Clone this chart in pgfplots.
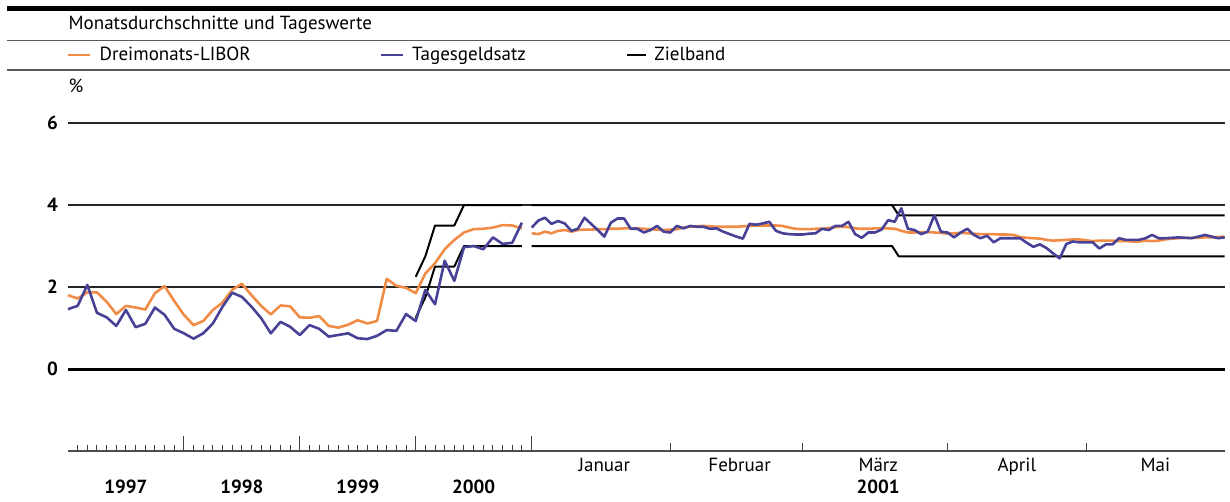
\documentclass[border=0pt]{standalone}
\usepackage{fontspec}
\setmainfont{PT Sans}
\usepackage{pgfplots}
\usepackage{pgfplotstable}
\pgfplotsset{compat=1.18}
\definecolor{liborc}{RGB}{240,140,70}
\definecolor{tagc}{RGB}{72,66,150}
\definecolor{sepc}{RGB}{90,90,90}

% Monatsdurchschnitte 1997-2000 (x = Monat, 0 = Jan 1997)
\pgfplotstableread{
x y
0 1.80
1 1.72
2 1.87
3 1.87
4 1.64
5 1.34
6 1.54
7 1.50
8 1.45
9 1.85
10 2.02
11 1.66
12 1.32
13 1.07
14 1.17
15 1.44
16 1.62
17 1.93
18 2.08
19 1.80
20 1.54
21 1.33
22 1.55
23 1.53
24 1.26
25 1.25
26 1.29
27 1.05
28 1.01
29 1.08
30 1.19
31 1.11
32 1.17
33 2.20
34 2.03
35 1.98
36 1.85
37 2.33
38 2.58
39 2.92
40 3.15
41 3.33
42 3.41
43 3.42
44 3.45
45 3.51
46 3.50
47 3.43
}\liborM

\pgfplotstableread{
x y
0 1.46
1 1.54
2 2.05
3 1.37
4 1.26
5 1.05
6 1.44
7 1.02
8 1.10
9 1.50
10 1.32
11 0.98
12 0.87
13 0.74
14 0.87
15 1.11
16 1.52
17 1.86
18 1.76
19 1.52
20 1.24
21 0.87
22 1.15
23 1.03
24 0.83
25 1.07
26 0.98
27 0.79
28 0.83
29 0.87
30 0.75
31 0.73
32 0.81
33 0.95
34 0.93
35 1.34
36 1.17
37 1.93
38 1.58
39 2.64
40 2.15
41 2.97
42 3.00
43 2.92
44 3.21
45 3.05
46 3.08
47 3.57
}\tagM

\pgfplotstableread{
x y
36 2.25
37 2.75
38 3.50
40 3.50
41 4.00
47 4.00
}\zielObenM

\pgfplotstableread{
x y
36 1.25
37 1.75
38 2.50
40 2.50
41 3.00
47 3.00
}\zielUntenM

% Tageswerte Januar-Mai 2001 (x = Geschaeftstag)
\pgfplotstableread{
x y
0 3.31
1 3.29
2 3.35
3 3.31
4 3.37
5 3.39
6 3.35
7 3.39
8 3.40
9 3.40
10 3.41
11 3.41
12 3.42
13 3.42
14 3.43
15 3.43
16 3.43
17 3.42
18 3.41
19 3.40
20 3.39
21 3.40
22 3.41
23 3.45
24 3.47
25 3.48
26 3.49
27 3.48
28 3.47
29 3.47
30 3.47
31 3.47
32 3.48
33 3.49
34 3.50
35 3.50
36 3.50
37 3.50
38 3.49
39 3.45
40 3.42
41 3.41
42 3.41
43 3.42
44 3.42
45 3.44
46 3.46
47 3.47
48 3.46
49 3.43
50 3.42
51 3.42
52 3.43
53 3.43
54 3.43
55 3.42
56 3.37
57 3.33
58 3.33
59 3.34
60 3.34
61 3.33
62 3.32
63 3.30
64 3.31
65 3.32
66 3.31
67 3.30
68 3.29
69 3.29
70 3.29
71 3.28
72 3.28
73 3.27
74 3.22
75 3.20
76 3.19
77 3.18
78 3.15
79 3.13
80 3.14
81 3.15
82 3.16
83 3.16
84 3.14
85 3.12
86 3.13
87 3.13
88 3.13
89 3.12
90 3.12
91 3.11
92 3.11
93 3.13
94 3.12
95 3.13
96 3.16
97 3.18
98 3.19
99 3.20
100 3.20
101 3.20
102 3.21
103 3.21
104 3.22
105 3.23
}\liborD

\pgfplotstableread{
x y
0 3.45
1 3.62
2 3.69
3 3.54
4 3.61
5 3.55
6 3.37
7 3.42
8 3.69
9 3.54
10 3.39
11 3.23
12 3.57
13 3.67
14 3.67
15 3.42
16 3.42
17 3.33
18 3.39
19 3.49
20 3.35
21 3.33
22 3.49
23 3.43
24 3.49
25 3.47
26 3.47
27 3.42
28 3.43
29 3.35
30 3.29
31 3.23
32 3.18
33 3.54
34 3.52
35 3.55
36 3.59
37 3.37
38 3.31
39 3.29
40 3.28
41 3.28
42 3.30
43 3.31
44 3.42
45 3.39
46 3.49
47 3.49
48 3.59
49 3.29
50 3.20
51 3.33
52 3.33
53 3.40
54 3.63
55 3.59
56 3.92
57 3.42
58 3.39
59 3.29
60 3.35
61 3.75
62 3.35
63 3.33
64 3.21
65 3.33
66 3.42
67 3.27
68 3.19
69 3.25
70 3.09
71 3.19
72 3.19
73 3.19
74 3.19
75 3.08
76 2.98
77 3.04
78 2.95
79 2.82
80 2.70
81 3.05
82 3.11
83 3.09
84 3.09
85 3.09
86 2.94
87 3.04
88 3.04
89 3.19
90 3.15
91 3.15
92 3.15
93 3.19
94 3.27
95 3.19
96 3.19
97 3.20
98 3.21
99 3.20
100 3.19
101 3.23
102 3.27
103 3.23
104 3.19
105 3.21
}\tagD

\pgfplotstableread{
x y
0 4.00
54.6 4.00
55.6 3.75
105 3.75
}\zielObenD

\pgfplotstableread{
x y
0 3.00
54.6 3.00
55.6 2.75
105 2.75
}\zielUntenD

\begin{document}
\begin{tikzpicture}[font=\fontsize{9.5}{11}\selectfont]
\useasboundingbox (0pt,0pt) rectangle (615pt,251pt);

% header (coordinates in pixels of the 1230x502 picture, origin bottom left)
\begin{scope}[x=0.5pt,y=0.5pt]
\fill[black] (6.7,490.5) rectangle (1230,495.5);
\node[anchor=base west, inner sep=0pt] at (68.3,472) {Monatsdurchschnitte und Tageswerte};
\draw[sepc, line width=0.6pt] (6.7,461.3) -- (1230,461.3);
\draw[liborc, line width=1.2pt] (68.3,447) -- (90,447);
\node[anchor=base west, inner sep=0pt] at (99.3,441) {Dreimonats-LIBOR};
\draw[tagc, line width=1.2pt] (380.7,447) -- (403.3,447);
\node[anchor=base west, inner sep=0pt] at (411.7,441) {Tagesgeldsatz};
\draw[black, line width=1.2pt] (627,447) -- (646,447);
\node[anchor=base west, inner sep=0pt] at (654,441) {Zielband};
\draw[sepc, line width=0.6pt] (6.7,432) -- (1230,432);
\node[anchor=base west, inner sep=0pt] at (68.3,409) {\%};
\end{scope}

% background: grid and y labels
\begin{axis}[at={(34.15pt,25.5pt)}, anchor=south west, scale only axis,
  width=578.5pt, height=174.25pt,
  xmin=0, xmax=1, ymin=-2, ymax=6.5,
  axis line style={draw=none},
  xtick=\empty, ytick={0,2,4,6},
  yticklabels={\textbf{0},\textbf{2},\textbf{4},\textbf{6}},
  yticklabel style={inner sep=0pt, xshift=-5pt},
  tick style={draw=none},
  ymajorgrids, major grid style={black!85, line width=0.6pt},
  clip=false]
\draw[black, line width=1.5pt] (axis cs:0,0) -- (axis cs:1,0);
\end{axis}

% monthly averages 1997-2000
\begin{axis}[at={(34pt,25.5pt)}, anchor=south west, scale only axis,
  width=231.8pt, height=174.25pt,
  xmin=0, xmax=48, ymin=-2, ymax=6.5,
  axis y line=none, axis x line*=bottom,
  x axis line style={-, black!70, line width=0.6pt},
  xtick={12,24,36,48}, xticklabels={},
  minor xtick={1,...,47},
  tick align=inside,
  major tick length=7.5pt, minor tick length=3.2pt,
  tick style={black!75, line width=0.5pt},
  extra x ticks={6,18,30,42},
  extra x tick labels={\textbf{1997},\textbf{1998},\textbf{1999},\textbf{2000}},
  extra x tick style={tick style={draw=none},
    tick label style={anchor=north, inner sep=0pt, yshift=-14.5pt}},
  clip=false]
\addplot[black, line width=1pt, line join=round] table {\zielObenM};
\addplot[black, line width=1pt, line join=round] table {\zielUntenM};
\addplot[liborc, line width=1.3pt, line join=round] table {\liborM};
\addplot[tagc, line width=1.3pt, line join=round] table {\tagM};
\end{axis}

% daily values 2001
\begin{axis}[at={(265.85pt,25.5pt)}, anchor=south west, scale only axis,
  width=346.5pt, height=174.25pt,
  xmin=0, xmax=105, ymin=-2, ymax=6.5,
  axis y line=none, axis x line*=bottom,
  x axis line style={-, black!70, line width=0.6pt},
  xtick={21,41,63,84}, xticklabels={},
  tick align=inside,
  major tick length=4pt,
  tick style={black!75, line width=0.5pt},
  extra x ticks={11,31.5,52.5,73.5,94.5},
  extra x tick labels={Januar,Februar,{März\\\textbf{2001}},April,Mai},
  extra x tick style={tick style={draw=none},
    tick label style={anchor=north, inner sep=0pt, yshift=-3.5pt, align=center}},
  clip=false]
\addplot[black, line width=1pt, line join=round] table {\zielObenD};
\addplot[black, line width=1pt, line join=round] table {\zielUntenD};
\addplot[liborc, line width=1.3pt, line join=round] table {\liborD};
\addplot[tagc, line width=1.3pt, line join=round] table {\tagD};
\end{axis}
\end{tikzpicture}
\end{document}
